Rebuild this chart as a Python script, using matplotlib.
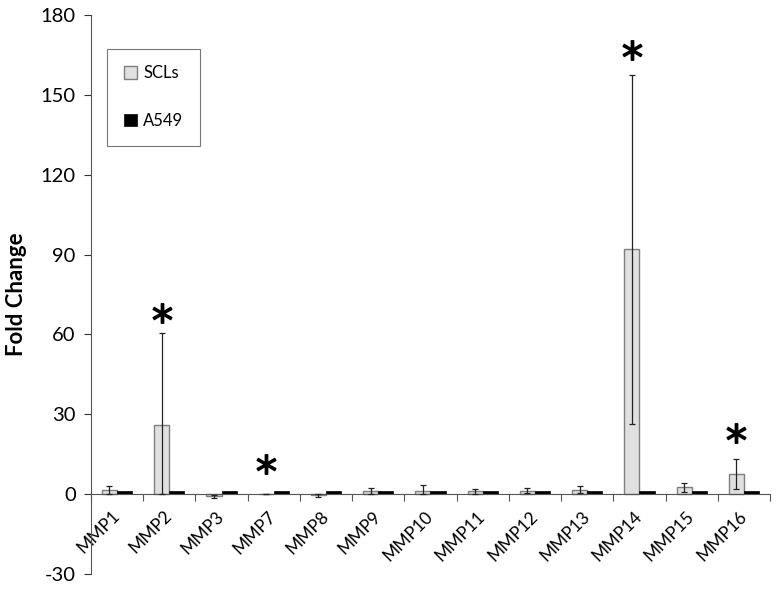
import matplotlib.pyplot as plt
import numpy as np

plt.rcParams['font.family'] = ['Lato', 'DejaVu Sans']
plt.rcParams['axes.unicode_minus'] = False

# 数据
genes = ['MMP1', 'MMP2', 'MMP3', 'MMP7', 'MMP8', 'MMP9', 'MMP10',
         'MMP11', 'MMP12', 'MMP13', 'MMP14', 'MMP15', 'MMP16']
scls = [1.5, 26, -0.8, 0.1, -0.5, 1.2, 1.3, 1.0, 1.3, 1.7, 92, 2.5, 7.6]
scls_err = [1.5, 34.5, 0.5, 0.0, 0.6, 1.0, 2.0, 1.0, 1.0, 1.3, 65.5, 1.6, 5.6]
a549 = [1, 1, 1, 1, 1, 1, 1, 1, 1, 1, 1, 1, 1]
# 星号标记（显著）
star_genes = ['MMP2', 'MMP7', 'MMP14', 'MMP16']
star_y = [68, 11.5, 167, 23]

fig = plt.figure(figsize=(7.77, 5.89), dpi=100)
ax = fig.add_axes([0.117, 0.0255, 0.874, 0.949])

x = np.arange(len(genes)) + 0.5
w = 0.29
scls = np.array(scls)
scls_err = np.array(scls_err)
lower = np.where(scls > 0, np.minimum(scls_err, scls), scls_err)

ax.bar(x - w/2, scls, w, color='#e0e0e0', edgecolor='#7f7f7f', linewidth=1.0,
       label='SCLs', zorder=2)
ax.errorbar(x - w/2, scls, yerr=[lower, scls_err], fmt='none', ecolor='#222222',
            elinewidth=0.9, capsize=2.5, capthick=0.9, zorder=3)
ax.bar(x + w/2, a549, w, color='black', edgecolor='black', linewidth=0.5,
       label='A549', zorder=2)

# 星号
for g, yy in zip(star_genes, star_y):
    i = genes.index(g)
    ax.plot(x[i] - w/2, yy, marker='$*$', markersize=14, color='black',
            linestyle='none', zorder=4)

ax.set_xlim(0, len(genes))
ax.set_ylim(-30, 180)
ax.set_yticks(np.arange(-30, 181, 30))
ax.tick_params(axis='y', labelsize=14.5, direction='out', length=5, width=0.8,
               colors='#333333', labelcolor='black', pad=6)
ax.set_ylabel('Fold Change', fontsize=16, fontweight='bold', labelpad=10)

ax.spines['top'].set_visible(False)
ax.spines['right'].set_visible(False)
ax.spines['bottom'].set_position(('data', 0))
ax.spines['bottom'].set_color('#555555')
ax.spines['left'].set_color('#555555')

ax.set_xticks(x)
ax.set_xticklabels(genes, rotation=45, ha='right', va='center',
                   rotation_mode='anchor', fontsize=12.5)
ax.set_xticks(np.arange(0, len(genes) + 1), minor=True)
ax.tick_params(axis='x', which='major', length=0, pad=14)
ax.tick_params(axis='x', which='minor', length=5, width=0.8, direction='out',
               colors='#555555')

leg = ax.legend(loc='upper left', bbox_to_anchor=(0.024, 0.94), fontsize=12,
                frameon=True, fancybox=False, edgecolor='#555555',
                handlelength=0.8, handleheight=0.8, handletextpad=0.35,
                labelspacing=1.9, borderpad=1.0, borderaxespad=0)
leg.get_frame().set_linewidth(0.8)

plt.savefig('out.png', dpi=100)
